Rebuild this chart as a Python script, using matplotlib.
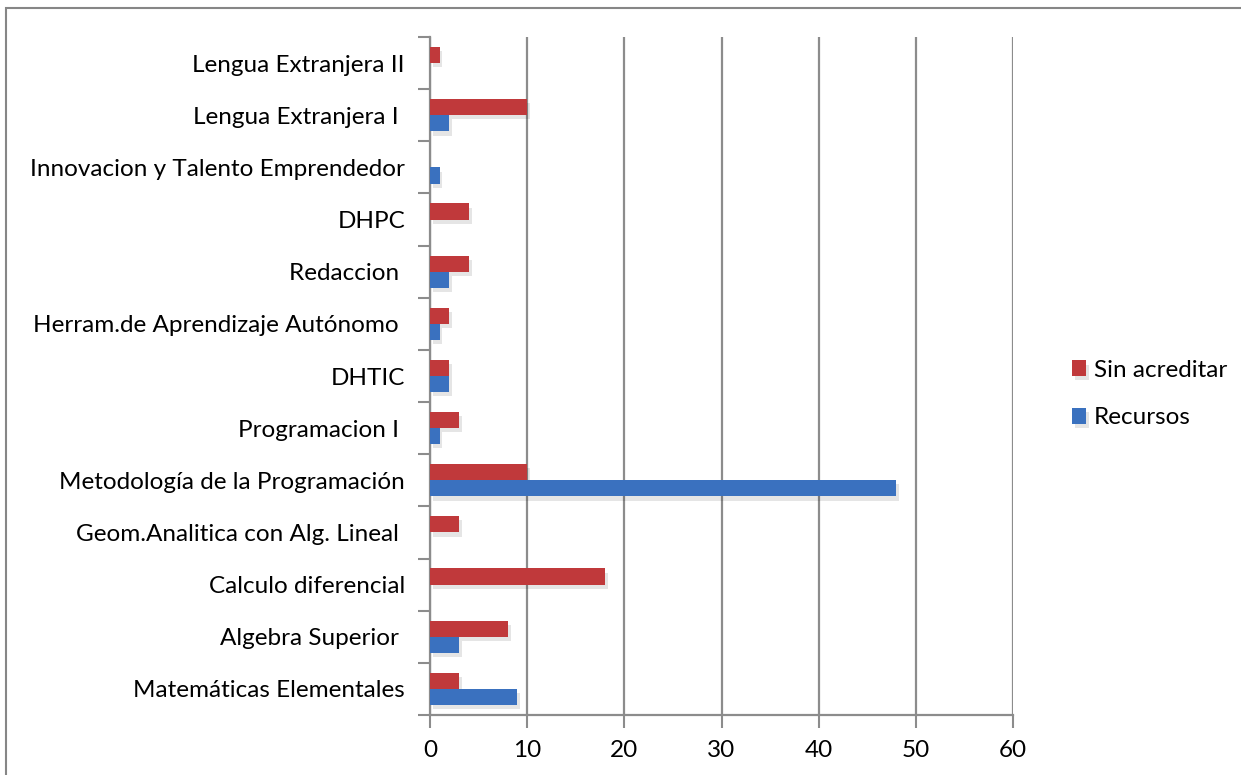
import matplotlib
matplotlib.use('Agg')
import matplotlib.pyplot as plt
import matplotlib.patheffects as pe
from matplotlib.patches import Rectangle
import numpy as np

materias = ['Matemáticas Elementales', 'Algebra Superior ', 'Calculo diferencial',
            'Geom.Analitica con Alg. Lineal ', 'Metodología de la Programación',
            'Programacion I ', 'DHTIC', 'Herram.de Aprendizaje Autónomo ',
            'Redaccion ', 'DHPC', 'Innovacion y Talento Emprendedor',
            'Lengua Extranjera I ', 'Lengua Extranjera II']
sin_acreditar = [3, 8, 18, 3, 10, 3, 2, 2, 4, 4, 0, 10, 1]
recursos = [9, 3, 0, 0, 48, 1, 2, 1, 2, 0, 1, 2, 0]
x_ticks = [0, 10, 20, 30, 40, 50, 60]

red = '#C0393B'
blue = '#3A71BF'
gray = '#8C8C8C'
fs = 17.5

plt.rcParams['font.family'] = ['Lato', 'DejaVu Sans']

fig = plt.figure(figsize=(12.41, 7.75), dpi=100)
fig.patches.append(Rectangle((6 / 1241, -0.1), 1.2, 1 - 8 / 775 + 0.1,
                             transform=fig.transFigure, fill=False,
                             edgecolor='#868686', linewidth=1.5))

ax = fig.add_axes([430 / 1241, 1 - 715 / 775, 583 / 1241, 678 / 775])

y = np.arange(len(materias))
h = 0.31
shadow = [pe.SimplePatchShadow(offset=(2, -3), shadow_rgbFace='#000000', alpha=0.1), pe.Normal()]
b1 = ax.barh(y + h / 2, sin_acreditar, height=h, color=red, label='Sin acreditar', zorder=3)
b2 = ax.barh(y - h / 2, recursos, height=h, color=blue, label='Recursos', zorder=3)
for bars in (b1, b2):
  for r in bars:
    if r.get_width() > 0:
      r.set_path_effects(shadow)

ax.set_xlim(0, 60)
ax.set_ylim(-0.5, len(materias) - 0.5)
ax.set_xticks(x_ticks)
ax.set_yticks(y)
ax.set_yticklabels(materias)
ax.set_yticks(np.arange(-0.5, len(materias)), minor=True)
ax.tick_params(axis='y', which='major', length=0, pad=18, labelsize=fs)
ax.tick_params(axis='y', which='minor', length=9, width=1.5, color=gray)
ax.tick_params(axis='x', length=9, width=1.5, color=gray, labelsize=fs, pad=9)

ax.grid(axis='x', color=gray, linewidth=1.6, zorder=0)
for s in ['top', 'right']:
  ax.spines[s].set_visible(False)
for s in ['left', 'bottom']:
  ax.spines[s].set_color(gray)
  ax.spines[s].set_linewidth(1.6)

handles, labels = ax.get_legend_handles_labels()
fig.legend(handles, labels, loc='center left', bbox_to_anchor=(1050 / 1241, 1 - 394 / 775),
           frameon=False, fontsize=fs, handlelength=0.6, handleheight=0.6,
           handletextpad=0.3, labelspacing=1.1)

fig.savefig('out.png', dpi=100)
